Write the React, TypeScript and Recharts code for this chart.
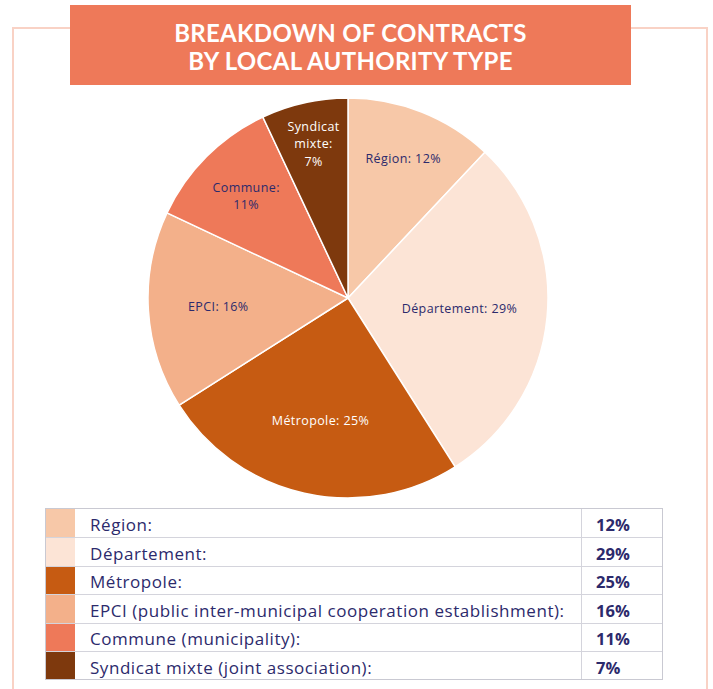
import React from 'react';
import { PieChart, Pie, Cell } from 'recharts';

const categories = ['Région', 'Département', 'Métropole', 'EPCI', 'Commune', 'Syndicat mixte'];
const shares = [12, 29, 25, 16, 11, 7];
const tableLabels = [
  'Région:',
  'Département:',
  'Métropole:',
  'EPCI (public inter-municipal cooperation establishment):',
  'Commune (municipality):',
  'Syndicat mixte (joint association):',
];
const pieLabelLines = [
  ['Région: 12%'],
  ['Département: 29%'],
  ['Métropole: 25%'],
  ['EPCI: 16%'],
  ['Commune:', '11%'],
  ['Syndicat', 'mixte:', '7%'],
];
const titleLines = ['BREAKDOWN OF CONTRACTS', 'BY LOCAL AUTHORITY TYPE'];

// styling
const colors = ['#F7C8A8', '#FCE4D6', '#C65B12', '#F3B08A', '#EE7959', '#7E390D'];
const labelColors = ['#2C2A6C', '#2C2A6C', '#FFFFFF', '#2C2A6C', '#2C2A6C', '#FFFFFF'];
const labelRadius = [0.75, 0.56, 0.63, 0.65, 0.72, 0.79];
const NAVY = '#2C2A6C';
const FONT = '"Open Sans", sans-serif';

const data = categories.map((c, i) => ({ name: c, value: shares[i] }));

const RADIAN = Math.PI / 180;

const renderLabel = (props: any) => {
  const { cx, cy, midAngle, outerRadius, index } = props;
  const r = outerRadius * labelRadius[index];
  const x = cx + r * Math.cos(-midAngle * RADIAN);
  const y = cy + r * Math.sin(-midAngle * RADIAN);
  const lines = pieLabelLines[index];
  const lh = 17.5;
  const startY = y - ((lines.length - 1) * lh) / 2;
  return (
    <g>
      {lines.map((l, i) => (
        <text
          key={i}
          x={x}
          y={startY + i * lh}
          textAnchor="middle"
          dominantBaseline="central"
          fill={labelColors[index]}
          fontFamily={FONT}
          fontSize={12.5}
          fontWeight={500}
          letterSpacing={0.4}
        >
          {l}
        </text>
      ))}
    </g>
  );
};

export default function App() {
  const rowH = 28.4;
  return (
    <div
      style={{
        position: 'absolute',
        left: 0,
        top: 0,
        width: 713,
        height: 689,
        background: '#fff',
        overflow: 'hidden',
        fontFamily: FONT,
      }}
    >
      <div
        style={{
          position: 'absolute',
          left: 12,
          top: 27,
          width: 692,
          height: 700,
          border: '2px solid #F9D2C5',
        }}
      />
      <div
        style={{
          position: 'absolute',
          left: 70,
          top: 5,
          width: 561,
          height: 80,
          paddingTop: 3,
          boxSizing: 'border-box',
          background: '#EE7959',
          color: '#fff',
          fontFamily: 'Lato, sans-serif',
          fontWeight: 700,
          fontSize: 24,
          letterSpacing: 0.3,
          lineHeight: '28px',
          textAlign: 'center',
          display: 'flex',
          flexDirection: 'column',
          justifyContent: 'center',
        }}
      >
        {titleLines.map((t, i) => (
          <div key={i}>{t}</div>
        ))}
      </div>
      <div style={{ position: 'absolute', left: 0, top: 0 }}>
        <PieChart width={713} height={505} margin={{ top: 0, right: 0, bottom: 0, left: 0 }}>
          <Pie
            data={data}
            dataKey="value"
            nameKey="name"
            cx={348}
            cy={298}
            outerRadius={200}
            startAngle={90}
            endAngle={-270}
            stroke="#FFFFFF"
            strokeWidth={1.5}
            labelLine={false}
            label={renderLabel}
            isAnimationActive={false}
          >
            {data.map((d, i) => (
              <Cell key={d.name} fill={colors[i]} />
            ))}
          </Pie>
        </PieChart>
      </div>
      <div
        style={{
          position: 'absolute',
          left: 45,
          top: 508,
          width: 618,
          border: '1px solid #C9C9D2',
          boxSizing: 'border-box',
        }}
      >
        {categories.map((c, i) => (
          <div
            key={c}
            style={{
              display: 'flex',
              height: rowH,
              borderTop: i === 0 ? 'none' : '1px solid #D4D4DC',
              boxSizing: 'border-box',
              alignItems: 'stretch',
            }}
          >
            <div style={{ width: 29, background: colors[i] }} />
            <div
              style={{
                width: 507,
                paddingLeft: 15,
                paddingTop: 3,
                color: NAVY,
                fontSize: 17,
                letterSpacing: 0.55,
                display: 'flex',
                alignItems: 'center',
                borderRight: '1px solid #D4D4DC',
                boxSizing: 'border-box',
                whiteSpace: 'nowrap',
              }}
            >
              {tableLabels[i]}
            </div>
            <div
              style={{
                flex: 1,
                paddingLeft: 14,
                paddingTop: 3,
                color: NAVY,
                fontSize: 16.5,
                fontWeight: 700,
                display: 'flex',
                alignItems: 'center',
              }}
            >
              {shares[i]}%
            </div>
          </div>
        ))}
      </div>
    </div>
  );
}
